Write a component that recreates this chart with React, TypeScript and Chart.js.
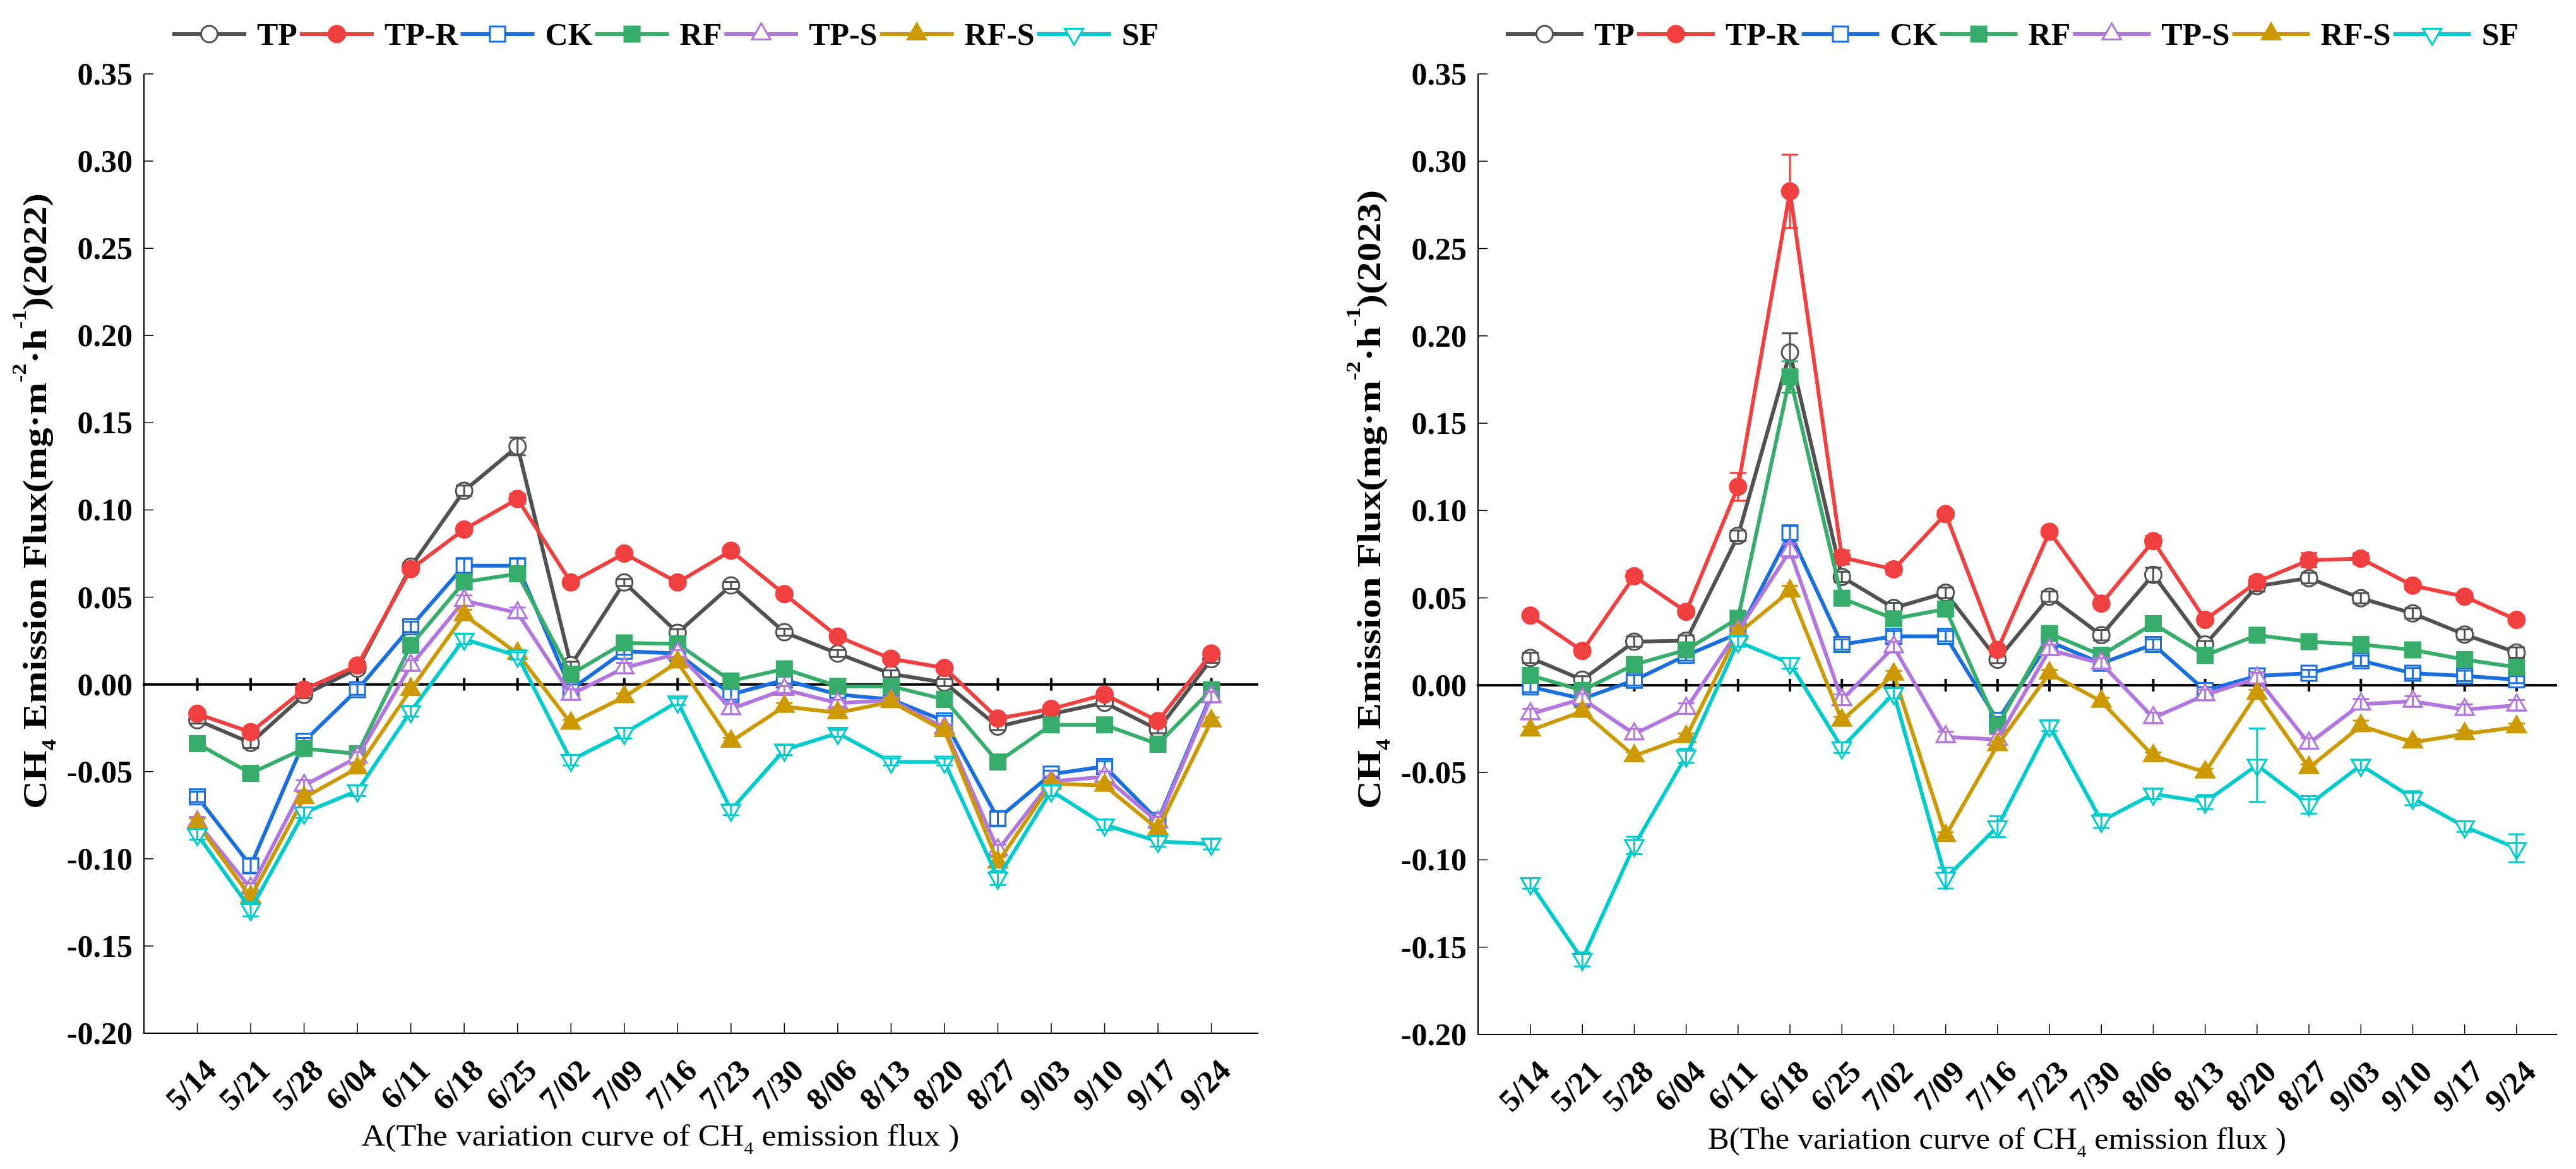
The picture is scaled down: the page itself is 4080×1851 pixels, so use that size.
import React, { useEffect, useRef } from 'react';
import { Chart, registerables } from 'chart.js';

Chart.register(...registerables);

const SERIF = '"Liberation Serif", "Times New Roman", serif';

const DATES = ['5/14', '5/21', '5/28', '6/04', '6/11', '6/18', '6/25', '7/02', '7/09', '7/16', '7/23', '7/30', '8/06', '8/13', '8/20', '8/27', '9/03', '9/10', '9/17', '9/24'];
const SERIES_NAMES = ['TP', 'TP-R', 'CK', 'RF', 'TP-S', 'RF-S', 'SF'];
const SERIES_COLORS = ['#515151', '#F14040', '#1A6FDF', '#37AD6B', '#B177DE', '#CC9900', '#00CBCC'];
const POINT_STYLES = ['circle', 'circle', 'rect', 'rect', 'triangle', 'triangle', 'triangle'];
const POINT_ROTATIONS = [0, 0, 0, 0, 0, 0, 180];
const POINT_FILLED = [false, true, false, true, false, true, false];
const Y_TICK_VALUES = [0.35, 0.3, 0.25, 0.2, 0.15, 0.1, 0.05, 0, -0.05, -0.1, -0.15, -0.2];

// 2022 (panel A) means
const TP_2022 = [-0.0205, -0.0335, -0.006, 0.009, 0.0675, 0.111, 0.1364, 0.011, 0.0584, 0.0296, 0.0567, 0.0299, 0.0177, 0.006, 0.001, -0.0242, -0.017, -0.0105, -0.026, 0.0144];
const TPR_2022 = [-0.0169, -0.0274, -0.003, 0.0108, 0.066, 0.0888, 0.1063, 0.0584, 0.075, 0.0584, 0.0766, 0.0517, 0.0274, 0.0147, 0.0094, -0.0196, -0.0141, -0.0058, -0.021, 0.0177];
const CK_2022 = [-0.0645, -0.104, -0.0327, -0.003, 0.033, 0.068, 0.068, -0.003, 0.019, 0.0177, -0.0058, 0.0025, -0.0058, -0.0086, -0.021, -0.077, -0.0515, -0.047, -0.078, -0.0058];
const RF_2022 = [-0.034, -0.051, -0.0368, -0.0398, 0.0224, 0.0587, 0.0634, 0.0058, 0.0238, 0.0232, 0.0019, 0.0089, -0.0011, -0.0011, -0.0086, -0.0445, -0.0232, -0.0232, -0.0343, -0.003];
const TPS_2022 = [-0.079, -0.117, -0.058, -0.0418, 0.0108, 0.048, 0.041, -0.0058, 0.0094, 0.0177, -0.0141, -0.003, -0.0108, -0.009, -0.025, -0.095, -0.0556, -0.053, -0.079, -0.0072];
const RFS_2022 = [-0.08, -0.122, -0.065, -0.048, -0.003, 0.0398, 0.0177, -0.0224, -0.0072, 0.0127, -0.0327, -0.0127, -0.0163, -0.01, -0.0266, -0.102, -0.057, -0.058, -0.083, -0.021];
const SF_2022 = [-0.086, -0.129, -0.0736, -0.061, -0.0155, 0.026, 0.0163, -0.0435, -0.028, -0.01, -0.072, -0.0376, -0.028, -0.0445, -0.0445, -0.111, -0.061, -0.0805, -0.09, -0.0916];

// 2022 (panel A) standard errors
const TP_2022_ERR = [0.002, 0.003, 0.002, 0.002, 0.002, 0.003, 0.005, 0.002, 0.002, 0.002, 0.002, 0.002, 0.002, 0.002, 0.002, 0.002, 0.002, 0.002, 0.002, 0.002];
const TPR_2022_ERR = [0.002, 0.002, 0.002, 0.002, 0.002, 0.002, 0.003, 0.002, 0.002, 0.002, 0.002, 0.002, 0.002, 0.002, 0.002, 0.002, 0.002, 0.002, 0.002, 0.002];
const CK_2022_ERR = [0.003, 0.004, 0.002, 0.003, 0.003, 0.004, 0.004, 0.003, 0.002, 0.002, 0.003, 0.002, 0.002, 0.002, 0.003, 0.004, 0.002, 0.003, 0.003, 0.002];
const RF_2022_ERR = [0.002, 0.002, 0.002, 0.002, 0.002, 0.003, 0.002, 0.002, 0.002, 0.002, 0.002, 0.002, 0.002, 0.002, 0.002, 0.002, 0.002, 0.002, 0.002, 0.002];
const TPS_2022_ERR = [0.003, 0.003, 0.003, 0.003, 0.003, 0.003, 0.003, 0.003, 0.003, 0.002, 0.003, 0.002, 0.002, 0.002, 0.002, 0.003, 0.003, 0.003, 0.003, 0.003];
const RFS_2022_ERR = [0.003, 0.003, 0.003, 0.002, 0.003, 0.003, 0.002, 0.002, 0.002, 0.002, 0.002, 0.002, 0.002, 0.002, 0.002, 0.003, 0.002, 0.002, 0.002, 0.002];
const SF_2022_ERR = [0.003, 0.004, 0.003, 0.003, 0.003, 0.003, 0.002, 0.003, 0.003, 0.002, 0.003, 0.003, 0.002, 0.002, 0.002, 0.004, 0.003, 0.003, 0.003, 0.003];

// 2023 (panel B) means
const TP_2023 = [0.0156, 0.0031, 0.0249, 0.0255, 0.0856, 0.1905, 0.062, 0.0442, 0.0529, 0.0146, 0.0507, 0.0286, 0.0632, 0.0233, 0.0567, 0.0613, 0.0498, 0.0411, 0.029, 0.0187];
const TPR_2023 = [0.0398, 0.0196, 0.0623, 0.042, 0.1136, 0.2827, 0.0732, 0.0663, 0.098, 0.0202, 0.0878, 0.0467, 0.0825, 0.0374, 0.0591, 0.0716, 0.0725, 0.057, 0.0507, 0.0374];
const CK_2023 = [-0.001, -0.0078, 0.0028, 0.0171, 0.0296, 0.0872, 0.0233, 0.028, 0.028, -0.0202, 0.0249, 0.0125, 0.0233, -0.0031, 0.0053, 0.0068, 0.014, 0.0068, 0.0053, 0.0031];
const RF_2023 = [0.0056, -0.003, 0.0118, 0.0202, 0.0383, 0.1765, 0.0498, 0.038, 0.0436, -0.0233, 0.0296, 0.0171, 0.0352, 0.0171, 0.0286, 0.0249, 0.0233, 0.0202, 0.0146, 0.0103];
const TPS_2023 = [-0.0165, -0.0078, -0.028, -0.0134, 0.031, 0.0769, -0.0084, 0.0218, -0.0296, -0.0311, 0.0202, 0.0125, -0.0187, -0.0056, 0.004, -0.0333, -0.0109, -0.0093, -0.014, -0.0115];
const RFS_2023 = [-0.0258, -0.015, -0.0405, -0.0296, 0.0296, 0.0539, -0.0202, 0.0062, -0.0862, -0.0342, 0.0068, -0.0093, -0.0405, -0.0498, -0.0047, -0.0473, -0.0233, -0.0327, -0.028, -0.024];
const SF_2023 = [-0.1136, -0.157, -0.0918, -0.0405, 0.0249, 0.0125, -0.0358, -0.0047, -0.1105, -0.081, -0.0233, -0.0778, -0.0623, -0.0669, -0.0458, -0.0685, -0.0458, -0.0647, -0.081, -0.0934];

// 2023 (panel B) standard errors
const TP_2023_ERR = [0.003, 0.002, 0.003, 0.003, 0.003, 0.011, 0.003, 0.003, 0.003, 0.002, 0.003, 0.003, 0.004, 0.002, 0.003, 0.003, 0.003, 0.003, 0.003, 0.003];
const TPR_2023_ERR = [0.002, 0.002, 0.003, 0.002, 0.008, 0.021, 0.004, 0.003, 0.002, 0.002, 0.002, 0.002, 0.003, 0.002, 0.003, 0.004, 0.003, 0.002, 0.002, 0.002];
const CK_2023_ERR = [0.003, 0.002, 0.003, 0.003, 0.003, 0.004, 0.003, 0.003, 0.003, 0.002, 0.003, 0.003, 0.003, 0.002, 0.002, 0.002, 0.003, 0.003, 0.003, 0.002];
const RF_2023_ERR = [0.002, 0.002, 0.002, 0.002, 0.002, 0.009, 0.002, 0.002, 0.002, 0.002, 0.002, 0.002, 0.002, 0.002, 0.002, 0.002, 0.002, 0.002, 0.002, 0.002];
const TPS_2023_ERR = [0.003, 0.003, 0.003, 0.003, 0.003, 0.004, 0.003, 0.003, 0.003, 0.003, 0.003, 0.003, 0.003, 0.003, 0.003, 0.003, 0.003, 0.003, 0.003, 0.003];
const RFS_2023_ERR = [0.002, 0.002, 0.002, 0.002, 0.003, 0.003, 0.002, 0.002, 0.002, 0.002, 0.002, 0.002, 0.002, 0.002, 0.002, 0.002, 0.003, 0.002, 0.002, 0.002];
const SF_2023_ERR = [0.003, 0.004, 0.005, 0.004, 0.003, 0.003, 0.003, 0.003, 0.006, 0.006, 0.003, 0.004, 0.003, 0.004, 0.021, 0.005, 0.003, 0.004, 0.003, 0.008];

type PanelCfg = {
  offset: number;
  letter: string;
  year: string;
  values: number[][];
  errors: number[][];
  pad: { left: number; right: number; top: number; bottom: number };
  xMin: number;
  xMax: number;
  legendX: number;
  legendLine: number;
  yTitleLen: number;
  xTitleCenter: number;
  xTitleWidth: number;
  xTitleBase: number;
};

const PANEL_A: PanelCfg = {
  offset: 0,
  letter: 'A',
  year: '2022',
  values: [TP_2022, TPR_2022, CK_2022, RF_2022, TPS_2022, RFS_2022, SF_2022],
  errors: [TP_2022_ERR, TPR_2022_ERR, CK_2022_ERR, RF_2022_ERR, TPS_2022_ERR, RFS_2022_ERR, SF_2022_ERR],
  pad: { left: 228, right: 47, top: 117, bottom: 1851 - 1636 },
  xMin: -1,
  xMax: 19.88,
  legendX: 273,
  legendLine: 117,
  yTitleLen: 975,
  xTitleCenter: 1046,
  xTitleWidth: 947,
  xTitleBase: 1814,
};

const PANEL_B: PanelCfg = {
  offset: 2040,
  letter: 'B',
  year: '2023',
  values: [TP_2023, TPR_2023, CK_2023, RF_2023, TPS_2023, RFS_2023, SF_2023],
  errors: [TP_2023_ERR, TPR_2023_ERR, CK_2023_ERR, RF_2023_ERR, TPS_2023_ERR, RFS_2023_ERR, SF_2023_ERR],
  pad: { left: 301, right: 30, top: 117, bottom: 1851 - 1638 },
  xMin: -1.01,
  xMax: 19.78,
  legendX: 345,
  legendLine: 123,
  yTitleLen: 980,
  xTitleCenter: 1123,
  xTitleWidth: 916,
  xTitleBase: 1819,
};

const POINT_RADII: Record<string, number> = { circle: 13, rect: 17, triangle: 17 };

function drawMarker(ctx: CanvasRenderingContext2D, style: string, rot: number, x: number, y: number, r: number, fill: string, stroke: string) {
  ctx.beginPath();
  if (style === 'circle') {
    ctx.arc(x, y, r, 0, Math.PI * 2);
  } else if (style === 'rect') {
    const s = r * Math.SQRT1_2;
    ctx.rect(x - s, y - s, 2 * s, 2 * s);
  } else {
    let a = (rot * Math.PI) / 180;
    for (let k = 0; k < 3; k++) {
      const px = x + Math.sin(a) * r;
      const py = y - Math.cos(a) * r;
      if (k === 0) ctx.moveTo(px, py);
      else ctx.lineTo(px, py);
      a += (2 * Math.PI) / 3;
    }
  }
  ctx.closePath();
  ctx.fillStyle = fill;
  ctx.fill();
  ctx.lineWidth = 3;
  ctx.strokeStyle = stroke;
  ctx.stroke();
}

// segs: [text, kind] with kind 0 normal, -1 subscript, 1 superscript
function drawRich(ctx: CanvasRenderingContext2D, segs: [string, number][], size: number, weight: string, align: 'left' | 'center', target: number) {
  const parts = segs.map(([t, k]) => {
    const fs = k ? Math.round(size * 0.58) : size;
    ctx.font = `${weight} ${fs}px ${SERIF}`;
    return { t, k, fs, w: ctx.measureText(t).width };
  });
  const total = parts.reduce((s, q) => s + q.w, 0);
  const sc = target ? target / total : 1;
  ctx.save();
  ctx.scale(sc, 1);
  let cx = align === 'center' ? -total / 2 : 0;
  ctx.textAlign = 'left';
  ctx.textBaseline = 'alphabetic';
  ctx.fillStyle = '#000';
  parts.forEach((q) => {
    ctx.font = `${weight} ${q.fs}px ${SERIF}`;
    const dy = q.k < 0 ? size * 0.28 : q.k > 0 ? -size * 0.6 : 0;
    ctx.fillText(q.t, cx, dy);
    cx += q.w;
  });
  ctx.restore();
}

function makeDecor(p: PanelCfg) {
  return {
    id: 'decor',
    beforeDatasetsDraw(chart: any) {
      const { ctx, chartArea: a } = chart;
      const xs = chart.scales.x;
      const ys = chart.scales.y;
      ctx.save();
      ctx.strokeStyle = '#000';
      ctx.lineCap = 'butt';
      // axes
      ctx.lineWidth = 2;
      ctx.beginPath();
      ctx.moveTo(a.left, a.top);
      ctx.lineTo(a.left, a.bottom);
      ctx.lineTo(a.right, a.bottom);
      ctx.stroke();
      // y ticks (inward)
      ctx.lineWidth = 1.5;
      Y_TICK_VALUES.forEach((v) => {
        const py = ys.getPixelForValue(v);
        ctx.beginPath();
        ctx.moveTo(a.left, py);
        ctx.lineTo(a.left + 15, py);
        ctx.stroke();
      });
      // bottom ticks (inward)
      DATES.forEach((_, i) => {
        const px = xs.getPixelForValue(i);
        ctx.beginPath();
        ctx.moveTo(px, a.bottom);
        ctx.lineTo(px, a.bottom - 16);
        ctx.stroke();
      });
      // zero line with ticks
      const z = ys.getPixelForValue(0);
      ctx.lineWidth = 4;
      ctx.beginPath();
      ctx.moveTo(a.left - 2, z);
      ctx.lineTo(a.right, z);
      ctx.stroke();
      DATES.forEach((_, i) => {
        const px = xs.getPixelForValue(i);
        ctx.beginPath();
        ctx.moveTo(px, z - 10);
        ctx.lineTo(px, z + 10);
        ctx.stroke();
      });
      // y tick labels
      ctx.fillStyle = '#000';
      ctx.font = `bold 50px ${SERIF}`;
      ctx.textAlign = 'right';
      ctx.textBaseline = 'alphabetic';
      Y_TICK_VALUES.forEach((v) => {
        ctx.fillText(v.toFixed(2), a.left - 18, ys.getPixelForValue(v) + 17);
      });
      // x tick labels (rotated)
      DATES.forEach((d, i) => {
        const px = xs.getPixelForValue(i);
        ctx.save();
        ctx.translate(px + 33, a.bottom + 62);
        ctx.rotate(-Math.PI / 4);
        ctx.textAlign = 'right';
        ctx.fillText(d, 0, 0);
        ctx.restore();
      });
      // y title
      ctx.save();
      ctx.translate(a.left - 155, 1281);
      ctx.rotate(-Math.PI / 2);
      drawRich(
        ctx,
        [
          ['CH', 0],
          ['4', -1],
          [' Emission Flux(mg·m', 0],
          ['-2', 1],
          ['·h', 0],
          ['-1', 1],
          [')(' + p.year + ')', 0],
        ],
        53,
        'bold',
        'left',
        p.yTitleLen
      );
      ctx.restore();
      // x title
      ctx.save();
      ctx.translate(p.xTitleCenter, p.xTitleBase);
      drawRich(
        ctx,
        [
          [p.letter + '(The variation curve of CH', 0],
          ['4', -1],
          [' emission flux )', 0],
        ],
        48,
        'normal',
        'center',
        p.xTitleWidth
      );
      ctx.restore();
      // legend
      let lx = p.legendX;
      const ly = 54;
      SERIES_NAMES.forEach((name, i) => {
        const c = SERIES_COLORS[i];
        ctx.strokeStyle = c;
        ctx.lineWidth = 6;
        ctx.beginPath();
        ctx.moveTo(lx, ly);
        ctx.lineTo(lx + p.legendLine, ly);
        ctx.stroke();
        const st = POINT_STYLES[i];
        drawMarker(ctx, st, POINT_ROTATIONS[i], lx + p.legendLine / 2, ly, POINT_RADII[st], POINT_FILLED[i] ? c : '#fff', c);
        ctx.font = `bold 50px ${SERIF}`;
        ctx.fillStyle = '#000';
        ctx.textAlign = 'left';
        ctx.textBaseline = 'alphabetic';
        const tx = lx + p.legendLine + 17;
        ctx.fillText(name, tx, ly + 17);
        lx = tx + ctx.measureText(name).width + 4;
      });
      ctx.restore();
    },
    afterDatasetDraw(chart: any, args: any) {
      const i = args.index;
      const errs = p.errors[i];
      const vals = p.values[i];
      const ys = chart.scales.y;
      const ctx = chart.ctx;
      ctx.save();
      ctx.strokeStyle = SERIES_COLORS[i];
      ctx.lineWidth = 3;
      args.meta.data.forEach((pt: any, k: number) => {
        const x = pt.x;
        const y1 = ys.getPixelForValue(vals[k] + errs[k]);
        const y2 = ys.getPixelForValue(vals[k] - errs[k]);
        ctx.beginPath();
        ctx.moveTo(x, y1);
        ctx.lineTo(x, y2);
        ctx.moveTo(x - 13, y1);
        ctx.lineTo(x + 13, y1);
        ctx.moveTo(x - 13, y2);
        ctx.lineTo(x + 13, y2);
        ctx.stroke();
      });
      ctx.restore();
    },
  };
}

function Panel({ p }: { p: PanelCfg }) {
  const ref = useRef<HTMLCanvasElement>(null);
  useEffect(() => {
    if (!ref.current) return;
    const datasets = SERIES_NAMES.map((name, i) => {
      const c = SERIES_COLORS[i];
      const st = POINT_STYLES[i];
      return {
        label: name,
        data: p.values[i].map((v, k) => ({ x: k, y: v })),
        borderColor: c,
        backgroundColor: c,
        borderWidth: 6,
        pointStyle: st as any,
        pointRotation: POINT_ROTATIONS[i],
        pointRadius: POINT_RADII[st],
        pointBorderWidth: 3,
        pointBackgroundColor: POINT_FILLED[i] ? c : '#ffffff',
        pointBorderColor: c,
        tension: 0,
        order: 6 - i,
        clip: false as any,
      };
    });
    const chart = new Chart(ref.current, {
      type: 'line',
      data: { datasets },
      options: {
        responsive: false,
        animation: false,
        devicePixelRatio: 1,
        events: [],
        layout: { padding: p.pad },
        plugins: {
          legend: { display: false },
          tooltip: { enabled: false },
          title: { display: false },
        },
        scales: {
          x: { type: 'linear', display: false, min: p.xMin, max: p.xMax },
          y: { type: 'linear', display: false, min: -0.2, max: 0.35 },
        },
      },
      plugins: [makeDecor(p)],
    });
    return () => chart.destroy();
  }, [p]);
  return (
    <canvas
      ref={ref}
      width={2040}
      height={1851}
      style={{ position: 'absolute', left: p.offset, top: 0, width: 2040, height: 1851 }}
    />
  );
}

export default function App() {
  return (
    <div style={{ position: 'absolute', left: 0, top: 0, width: 4080, height: 1851, background: '#ffffff', overflow: 'hidden' }}>
      <Panel p={PANEL_A} />
      <Panel p={PANEL_B} />
    </div>
  );
}
